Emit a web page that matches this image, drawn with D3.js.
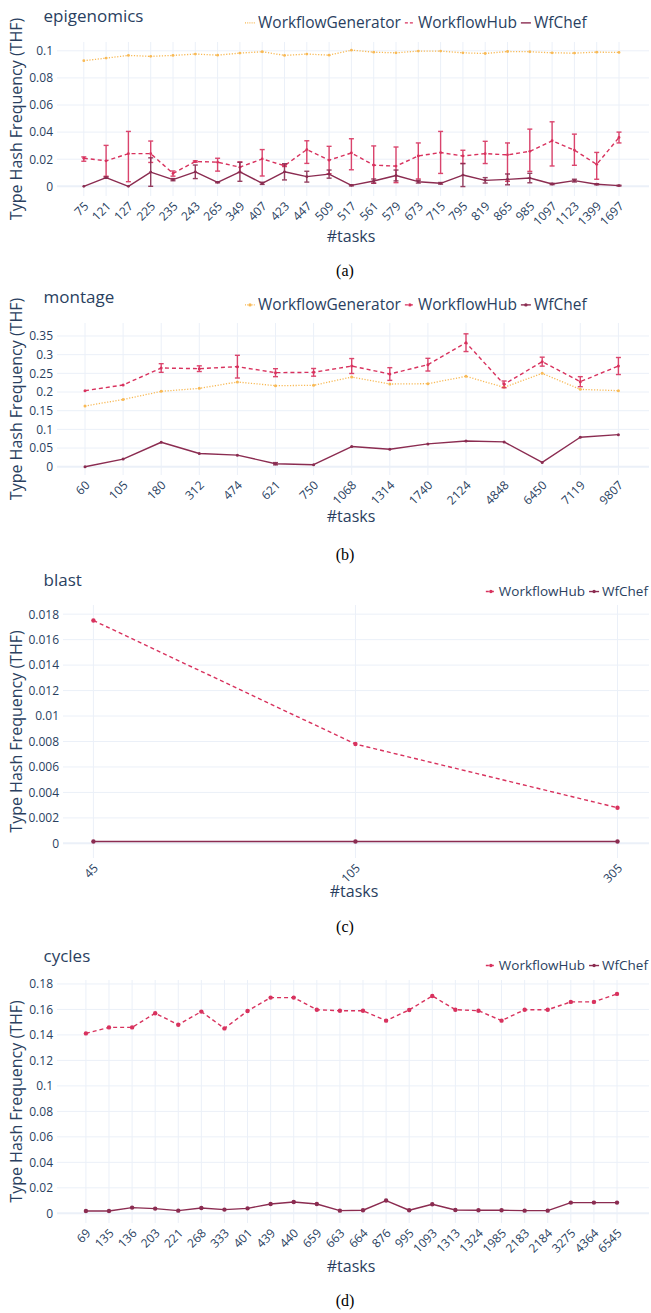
<!DOCTYPE html>
<html><head><meta charset="utf-8">
<script src="https://cdn.jsdelivr.net/npm/d3@7"></script>
<style>
html,body{margin:0;padding:0;background:#fff;}
svg{display:block;}
</style></head>
<body>
<svg id="chart" width="651" height="1313"></svg>
<script>
// ---------------- data ----------------
const epiTasks = ["75","121","127","225","235","243","265","349","407","423","447","509","517","561","579","673","715","795","819","865","985","1097","1123","1399","1697"];
const epiWG = [0.0927,0.0946,0.0966,0.0959,0.0966,0.0976,0.0968,0.0983,0.0993,0.0966,0.0976,0.0968,0.1005,0.099,0.0985,0.0998,0.0998,0.0985,0.098,0.0995,0.0993,0.0985,0.0983,0.099,0.0988];
const epiWH = [0.0207,0.0188,0.0241,0.0241,0.0095,0.0183,0.0178,0.0141,0.0202,0.0152,0.0271,0.0193,0.0246,0.0156,0.0149,0.0224,0.0249,0.0224,0.0241,0.0232,0.0258,0.0336,0.0267,0.0162,0.036];
const epiWHHi = [0.0217,0.0302,0.0405,0.0334,0.0113,0.0188,0.0207,0.018,0.0271,0.0158,0.0336,0.0295,0.0351,0.0298,0.029,0.032,0.0405,0.0266,0.0332,0.032,0.0422,0.0476,0.0385,0.025,0.04];
const epiWHLo = [0.0185,0.0074,0.0034,0.0176,0.0075,0.0178,0.0112,0.0102,0.0076,0.0146,0.0169,0.0093,0.0122,0.0022,0.0027,0.0054,0.0095,0.0168,0.0168,0.0037,0.011,0.015,0.0155,0.0052,0.032];
const epiWC = [0,0.0064,0,0.0105,0.0049,0.0107,0.0029,0.0107,0.0022,0.0107,0.0071,0.009,0.0007,0.0039,0.008,0.0034,0.0022,0.0083,0.0044,0.0051,0.0061,0.0017,0.0042,0.0015,0.0005];
const epiWCErr = [0,0.0005,0,0.0105,0.0008,0.005,0.0003,0.007,0.0008,0.006,0.004,0.003,0.0004,0.0015,0.004,0.001,0.0006,0.0085,0.002,0.004,0.0035,0.0005,0.001,0.0004,0.0003];
const epiYTicks = [0,0.02,0.04,0.06,0.08,0.1];

const monTasks = ["60","105","180","312","474","621","750","1068","1314","1740","2124","4848","6450","7119","9807"];
const monWG = [0.1625,0.18,0.2018,0.2098,0.2268,0.217,0.2179,0.2402,0.2214,0.2223,0.242,0.2125,0.25,0.2071,0.2036];
const monWH = [0.2036,0.2188,0.2643,0.2625,0.2679,0.2518,0.2527,0.2696,0.2482,0.2732,0.3321,0.2205,0.2813,0.2277,0.2696];
const monWHErr = [0,0,0.0116,0.0076,0.0304,0.0107,0.0103,0.02,0.017,0.017,0.0237,0.009,0.012,0.0134,0.0228];
const monWC = [0,0.0204,0.0655,0.0354,0.031,0.008,0.0053,0.054,0.0469,0.0611,0.069,0.0664,0.0115,0.0788,0.0858];
const monWCErr = [0,0,0,0,0,0.003,0,0,0,0,0,0,0,0,0];
const monYTicks = [0,0.05,0.1,0.15,0.2,0.25,0.3,0.35];

const blastTasks = ["45","105","305"];
const blastWH = [0.0175,0.0078,0.0028];
const blastWC = [0.00015,0.00015,0.00015];
const blastYTicks = [0,0.002,0.004,0.006,0.008,0.01,0.012,0.014,0.016,0.018];

const cycTasks = ["69","135","136","203","221","268","333","401","439","440","659","663","664","876","995","1093","1313","1324","1985","2183","2184","3275","4364","6545"];
const cycWH = [0.1412,0.1459,0.1459,0.157,0.148,0.1583,0.1451,0.1588,0.1693,0.1693,0.1598,0.159,0.159,0.1512,0.1596,0.1706,0.1598,0.159,0.1512,0.1598,0.1598,0.1659,0.1659,0.1722];
const cycWC = [0.0018,0.0018,0.0045,0.0037,0.0021,0.0042,0.0029,0.0039,0.0073,0.0089,0.0073,0.0021,0.0024,0.01,0.0024,0.0071,0.0026,0.0024,0.0024,0.0021,0.0021,0.0084,0.0084,0.0084];
const cycYTicks = [0,0.02,0.04,0.06,0.08,0.1,0.12,0.14,0.16,0.18];

// ---------------- styles ----------------
const FONT = "'Open Sans', 'DejaVu Sans', sans-serif";
const TXT = "#2a3f5f";
const GRID = "#EBF0F8";
const TICK_FS = "12px", TITLE_FS = "17px", AX_FS = "16px";
const STY = {
  WorkflowGenerator: {color:"#F8B955", dash:"1.2,1.6", width:1.3},
  WorkflowHub: {color:"#D8325E", dash:"4,3", width:1.4},
  WfChef: {color:"#8B2C51", dash:null, width:1.4}
};

const panels = [
  {name:"epigenomics", caption:"(a)", tasks:epiTasks, top:42, bottom:196, left:57, right:649, x0:83.8, x1:619,
   yDom:[-0.00716,0.1065], yTicks:epiYTicks, titleY:22, legY:28, legX:245, legAlign:"left", legFs:15.5,
   xTitleY:242, capY:276, mr:1.4, legMarker:false,
   series:[
     {name:"WorkflowGenerator", values:epiWG},
     {name:"WorkflowHub", values:epiWH, hi:epiWHHi, lo:epiWHLo},
     {name:"WfChef", values:epiWC, err:epiWCErr}
   ]},
  {name:"montage", caption:"(b)", tasks:monTasks, top:323, bottom:475, left:57, right:649, x0:85, x1:618.4,
   yDom:[-0.0222,0.3848], yTicks:monYTicks, titleY:303, legY:310, legX:245, legAlign:"left", legFs:15.5,
   xTitleY:522, capY:560, mr:1.5, legMarker:true,
   series:[
     {name:"WorkflowGenerator", values:monWG},
     {name:"WorkflowHub", values:monWH, err:monWHErr},
     {name:"WfChef", values:monWC, err:monWCErr}
   ]},
  {name:"blast", caption:"(c)", tasks:blastTasks, top:605, bottom:858, left:63, right:649, x0:93.4, x1:617.5,
   yDom:[-0.00115,0.01872], yTicks:blastYTicks, titleY:586, legY:596, legX:648, legAlign:"right", legFs:13.5,
   xTitleY:897, capY:932, mr:2.2, legMarker:true,
   series:[
     {name:"WorkflowHub", values:blastWH},
     {name:"WfChef", values:blastWC}
   ]},
  {name:"cycles", caption:"(d)", tasks:cycTasks, top:980, bottom:1223, left:57, right:649, x0:85.9, x1:617,
   yDom:[-0.0076,0.1831], yTicks:cycYTicks, titleY:962, legY:970, legX:648, legAlign:"right", legFs:13.5,
   xTitleY:1272, capY:1306, mr:2.2, legMarker:true,
   series:[
     {name:"WorkflowHub", values:cycWH},
     {name:"WfChef", values:cycWC}
   ]}
];

const svg = d3.select("#chart");
const fmt = v => String(+v.toFixed(6));

panels.forEach(p => {
  const g = svg.append("g");
  const x = d3.scalePoint().domain(p.tasks).range([p.x0, p.x1]);
  const y = d3.scaleLinear().domain(p.yDom).range([p.bottom, p.top]);

  // grid
  g.append("g").selectAll("line.v").data(p.tasks).join("line")
    .attr("x1", d=>x(d)).attr("x2", d=>x(d)).attr("y1", p.top).attr("y2", p.bottom)
    .attr("stroke", GRID).attr("stroke-width", 1);
  g.append("g").selectAll("line.h").data(p.yTicks).join("line")
    .attr("x1", p.left).attr("x2", p.right).attr("y1", d=>y(d)).attr("y2", d=>y(d))
    .attr("stroke", GRID).attr("stroke-width", d=> d===0 ? 2 : 1);

  // y axis labels
  const yAxis = d3.axisLeft(y).tickValues(p.yTicks).tickFormat(fmt).tickSize(0).tickPadding(4);
  const ya = g.append("g").attr("transform", `translate(${p.left},0)`).call(yAxis);
  ya.select(".domain").remove();
  ya.selectAll("text").attr("fill", TXT).style("font-family", FONT).style("font-size", TICK_FS);

  // x axis labels
  const xAxis = d3.axisBottom(x).tickSize(0).tickPadding(0);
  const xa = g.append("g").attr("transform", `translate(0,${p.bottom})`).call(xAxis);
  xa.select(".domain").remove();
  xa.selectAll("text").attr("fill", TXT).style("font-family", FONT).style("font-size", TICK_FS)
    .attr("text-anchor", "end").attr("dy", null).attr("y", 0)
    .attr("transform", "translate(5,11) rotate(-45)");

  // titles
  g.append("text").attr("x", 43.5).attr("y", p.titleY).text(p.name)
    .attr("fill", TXT).style("font-family", FONT).style("font-size", TITLE_FS);
  g.append("text").attr("x", (p.left+p.right)/2 - 2).attr("y", p.xTitleY).attr("text-anchor","middle")
    .text("#tasks").attr("fill", TXT).style("font-family", FONT).style("font-size", AX_FS);
  g.append("text").attr("transform", `translate(22,${(p.top+p.bottom)/2}) rotate(-90)`).attr("text-anchor","middle")
    .text("Type Hash Frequency (THF)").attr("fill", TXT).style("font-family", FONT).style("font-size", AX_FS);
  g.append("text").attr("x", 345).attr("y", p.capY).attr("text-anchor","middle").text(p.caption)
    .attr("fill", "#000").style("font-family", "'Liberation Serif','Times New Roman',serif").style("font-size", "16px");

  // series
  p.series.forEach(s => {
    const st = STY[s.name];
    const pts = p.tasks.map((t,i)=>({t, v:s.values[i], i}));
    const line = d3.line().x(d=>x(d.t)).y(d=>y(d.v));
    g.append("path").datum(pts).attr("d", line).attr("fill","none")
      .attr("stroke", st.color).attr("stroke-width", st.width)
      .attr("stroke-dasharray", st.dash).attr("stroke-linejoin","round");
    // error bars
    const eb = pts.map(d => {
      let hi = null, lo = null;
      if (s.hi) { hi = s.hi[d.i]; lo = s.lo[d.i]; }
      else if (s.err && s.err[d.i] > 0) { hi = d.v + s.err[d.i]; lo = d.v - s.err[d.i]; }
      return {t:d.t, hi, lo};
    }).filter(d => d.hi !== null);
    const ebg = g.append("g").attr("stroke", st.color).attr("stroke-width", 1.4).attr("opacity", 0.9);
    ebg.selectAll("line.e").data(eb).join("line")
      .attr("x1", d=>x(d.t)).attr("x2", d=>x(d.t)).attr("y1", d=>y(d.hi)).attr("y2", d=>y(d.lo));
    ebg.selectAll("line.c1").data(eb).join("line")
      .attr("x1", d=>x(d.t)-2.5).attr("x2", d=>x(d.t)+2.5).attr("y1", d=>y(d.hi)).attr("y2", d=>y(d.hi));
    ebg.selectAll("line.c2").data(eb).join("line")
      .attr("x1", d=>x(d.t)-2.5).attr("x2", d=>x(d.t)+2.5).attr("y1", d=>y(d.lo)).attr("y2", d=>y(d.lo));
    // markers
    g.append("g").selectAll("circle").data(pts).join("circle")
      .attr("cx", d=>x(d.t)).attr("cy", d=>y(d.v)).attr("r", p.mr).attr("fill", st.color);
  });

  // legend
  const leg = g.append("g");
  const items = p.series.map(s => s.name);
  const widths = [];
  const tmp = leg.append("g");
  items.forEach(n => {
    const t = tmp.append("text").text(n).style("font-family", FONT).style("font-size", p.legFs + "px");
    widths.push(t.node().getComputedTextLength());
  });
  tmp.remove();
  const sampleW = 10, gap = 3, itemGap = 4;
  const total = d3.sum(widths) + items.length*(sampleW+gap) + (items.length-1)*itemGap;
  let cx = p.legAlign === "left" ? p.legX : p.legX - total;
  items.forEach((n,i) => {
    const st = STY[n];
    const my = p.legY - p.legFs*0.33;
    leg.append("line").attr("x1", cx).attr("x2", cx+sampleW).attr("y1", my).attr("y2", my)
      .attr("stroke", st.color).attr("stroke-width", st.width).attr("stroke-dasharray", st.dash ? (n==="WorkflowHub"?"3,2":"1,1.2") : null);
    if (p.legMarker) leg.append("circle").attr("cx", cx+sampleW/2).attr("cy", my).attr("r", 1.7).attr("fill", st.color);
    leg.append("text").attr("x", cx+sampleW+gap).attr("y", p.legY).text(n)
      .attr("fill", TXT).style("font-family", FONT).style("font-size", p.legFs + "px");
    cx += sampleW + gap + widths[i] + itemGap;
  });
});
</script>
</body></html>
